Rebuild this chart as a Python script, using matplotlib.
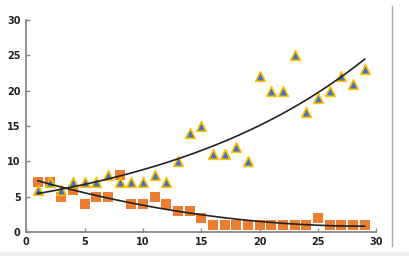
import numpy as np
import matplotlib.pyplot as plt
from matplotlib.patches import Rectangle

# data
x = list(range(1, 30))
triangles = [6, 7, 6, 7, 7, 7, 8, 7, 7, 7, 8, 7, 10, 14, 15, 11, 11, 12, 10,
             22, 20, 20, 25, 17, 19, 20, 22, 21, 23]
squares = [7, 7, 5, 6, 4, 5, 5, 8, 4, 4, 5, 4, 3, 3, 2, 1, 1, 1, 1,
           1, 1, 1, 1, 1, 2, 1, 1, 1, 1]
ticks = [0, 5, 10, 15, 20, 25, 30]

xa = np.array(x, dtype=float)
xs = np.linspace(1, 29, 200)

# trendlines: exponential for the rising series, 2nd order poly for the falling one
b, a = np.polyfit(xa, np.log(triangles), 1)
tri_fit = np.exp(a) * np.exp(b * xs)
sq_fit = np.polyval(np.polyfit(xa, squares, 2), xs)

fig = plt.figure(figsize=(4.09, 2.56), dpi=100)
ax = fig.add_axes([0.064, 0.094, 0.865, 0.828])

ax.scatter(x, squares, marker='s', s=46, color='#ED7D31', zorder=3, linewidths=0)
ax.scatter(x, triangles, marker='^', s=48, color='#4472C4', edgecolors='#FFC000',
           linewidths=1.2, zorder=4)
ax.plot(xs, tri_fit, color='#222222', lw=1.2, zorder=5)
ax.plot(xs, sq_fit, color='#222222', lw=1.2, zorder=5)

ax.set_xlim(0, 30.3)
ax.set_ylim(0, 30)
ax.set_xticks(ticks)
ax.set_yticks(ticks)
for s in ['top', 'right']:
    ax.spines[s].set_visible(False)
for s in ['left', 'bottom']:
    ax.spines[s].set_color('#888888')
    ax.spines[s].set_linewidth(1.3)
ax.spines['bottom'].set_bounds(0, 30)
ax.tick_params(direction='in', length=3, width=1, color='#888888',
               labelsize=7, pad=4)
for lab in ax.get_xticklabels() + ax.get_yticklabels():
    lab.set_fontweight('bold')
    lab.set_color('#222222')

# chart frame pieces: right border and bottom gray strip
fig.patches.append(Rectangle((0, 0), 1, 4 / 256, transform=fig.transFigure,
                             color='#EEEEEE', zorder=0))
fig.lines.append(plt.Line2D([392 / 409, 392 / 409], [10 / 256, 250 / 256],
                            transform=fig.transFigure, color='#AAAAAA', lw=1))

fig.savefig('out.png', dpi=100)
